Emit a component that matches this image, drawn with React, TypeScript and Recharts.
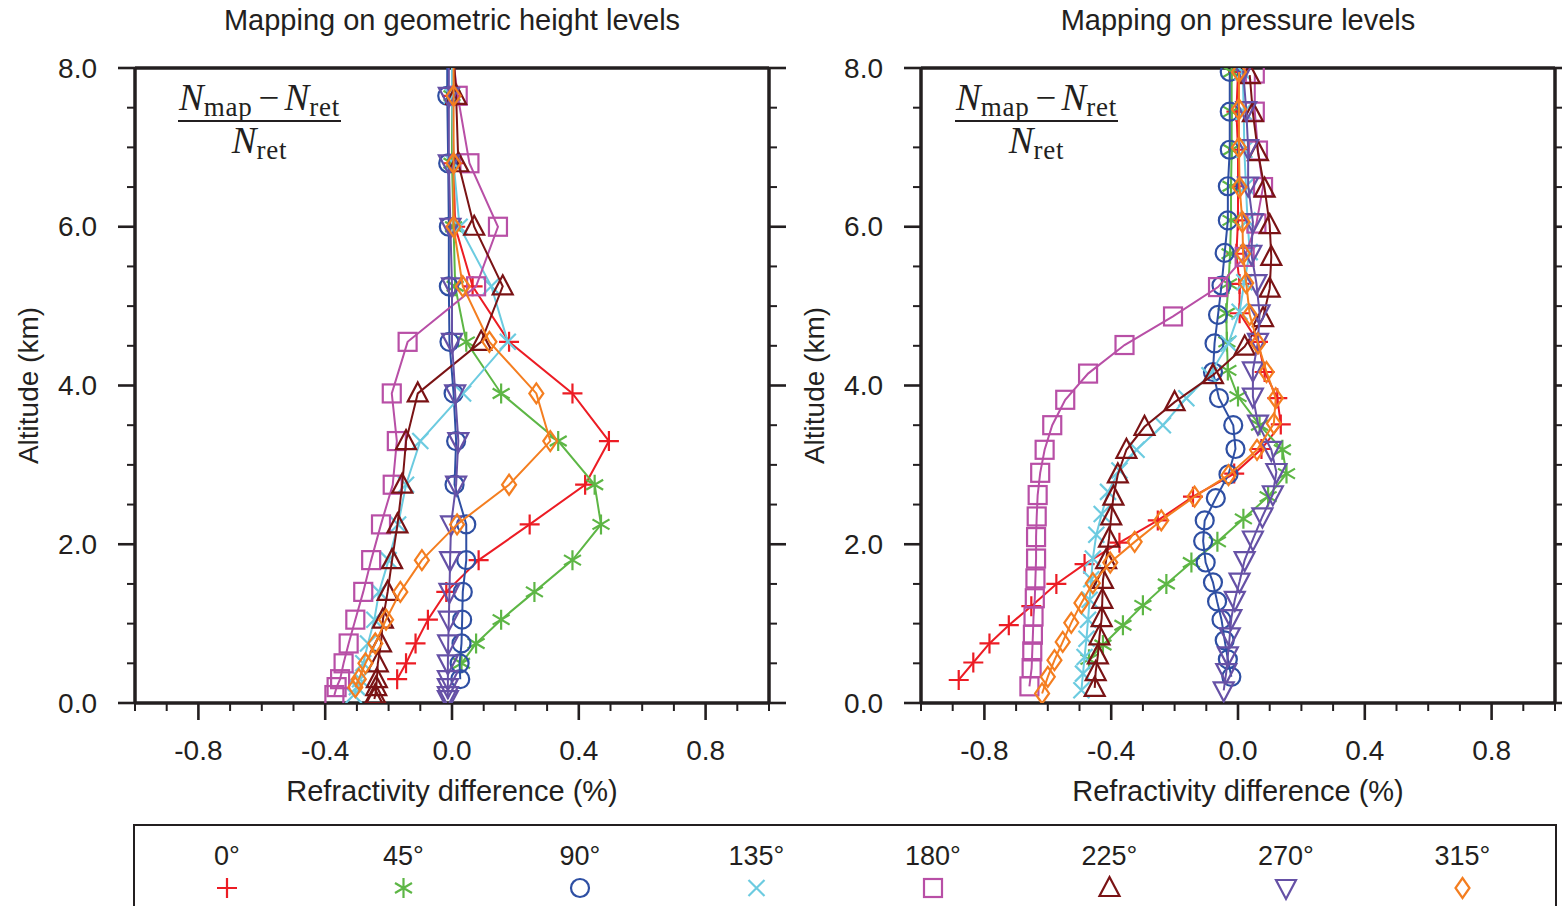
import React from 'react';
import { ScatterChart, Scatter, XAxis, YAxis } from 'recharts';

const INK = '#231f20';
const SANS = '"Liberation Sans", Arial, Helvetica, sans-serif';
const SERIF = '"Liberation Serif", "DejaVu Serif", "Times New Roman", serif';

// axes
const xTicks = [-1.0, -0.9, -0.8, -0.7, -0.6, -0.5, -0.4, -0.3, -0.2, -0.1, 0.0, 0.1, 0.2, 0.3, 0.4, 0.5, 0.6, 0.7, 0.8, 0.9, 1.0];
const xLabelTicks = [-0.8, -0.4, 0.0, 0.4, 0.8];
const yTicks = [0, 0.5, 1, 1.5, 2, 2.5, 3, 3.5, 4, 4.5, 5, 5.5, 6, 6.5, 7, 7.5, 8];
const yLabelTicks = [0, 2, 4, 6, 8];

// series (azimuth of the mapping direction)
const azimuths = ['0°', '45°', '90°', '135°', '180°', '225°', '270°', '315°'];
const colors = ['#ec1c24', '#5db645', '#2e4fa3', '#6ccbe0', '#b84fa6', '#7a1315', '#6651a6', '#f47e20'];
const markers = ['plus', 'star', 'circle', 'cross', 'square', 'triUp', 'triDown', 'diamond'];

// left panel: geometric height levels (km); top level lies above the plot
const geoLevels = [8.55, 7.65, 6.8, 6.0, 5.25, 4.55, 3.9, 3.3, 2.75, 2.25, 1.8, 1.4, 1.05, 0.75, 0.5, 0.3, 0.2, 0.1, 0.05];
const geo0 = [0.0, 0.0, 0.005, 0.01, 0.065, 0.18, 0.38, 0.495, 0.42, 0.245, 0.084, -0.018, -0.076, -0.115, -0.145, -0.173];
const geo45 = [0.0, 0.0, 0.0, 0.005, 0.01, 0.045, 0.155, 0.335, 0.45, 0.47, 0.38, 0.26, 0.155, 0.076, 0.03];
const geo90 = [-0.015, -0.015, -0.012, -0.01, -0.01, -0.008, 0.005, 0.013, 0.008, 0.045, 0.045, 0.034, 0.032, 0.03, 0.024, 0.026];
const geo135 = [0.0, 0.0, 0.005, 0.024, 0.124, 0.176, 0.035, -0.1, -0.145, -0.17, -0.2, -0.23, -0.245, -0.265, -0.28, -0.29, -0.3, -0.31];
const geo180 = [-0.01, 0.018, 0.055, 0.145, 0.076, -0.14, -0.19, -0.174, -0.187, -0.224, -0.255, -0.28, -0.305, -0.326, -0.342, -0.353, -0.364, -0.371];
const geo225 = [0.0, 0.013, 0.02, 0.07, 0.16, 0.092, -0.108, -0.145, -0.157, -0.172, -0.189, -0.203, -0.218, -0.224, -0.234, -0.237, -0.239, -0.242, -0.245];
const geo270 = [-0.01, -0.01, -0.01, -0.005, 0.0, 0.0, 0.01, 0.02, 0.013, -0.003, -0.006, -0.008, -0.01, -0.012, -0.013, -0.013, -0.013, -0.013, -0.013];
const geo315 = [0.005, 0.005, 0.005, 0.005, 0.034, 0.118, 0.266, 0.31, 0.18, 0.016, -0.095, -0.163, -0.208, -0.242, -0.273, -0.294, -0.305];

// right panel: pressure levels, altitude of each level per direction (km)
const pHeight0 = [7.95, 7.45, 6.97, 6.51, 6.08, 5.66, 5.28, 4.91, 4.55, 4.17, 3.84, 3.51, 3.2, 2.89, 2.6, 2.3, 2.02, 1.75, 1.5, 1.22, 0.98, 0.75, 0.51, 0.29];
const pValue0 = [0.0, -0.005, 0.0, 0.0, 0.0, -0.005, 0.005, 0.005, 0.063, 0.084, 0.124, 0.135, 0.074, -0.012, -0.142, -0.253, -0.374, -0.484, -0.573, -0.652, -0.723, -0.784, -0.835, -0.881];
const pHeight45 = [7.95, 7.45, 6.97, 6.51, 6.08, 5.66, 5.28, 4.91, 4.55, 4.19, 3.86, 3.5, 3.19, 2.89, 2.6, 2.32, 2.03, 1.77, 1.5, 1.23, 0.98, 0.73, 0.55];
const pValue45 = [-0.02, -0.02, -0.02, -0.022, -0.022, -0.025, -0.03, -0.037, -0.035, -0.032, 0.0, 0.068, 0.14, 0.153, 0.095, 0.017, -0.065, -0.147, -0.226, -0.3, -0.363, -0.426, -0.47];
const pHeight90 = [7.95, 7.45, 6.97, 6.51, 6.08, 5.67, 5.26, 4.89, 4.53, 4.17, 3.84, 3.5, 3.2, 2.88, 2.58, 2.3, 2.04, 1.77, 1.52, 1.28, 1.05, 0.79, 0.55, 0.33];
const pValue90 = [-0.026, -0.026, -0.026, -0.032, -0.032, -0.042, -0.052, -0.063, -0.074, -0.079, -0.06, -0.015, -0.008, -0.03, -0.07, -0.105, -0.11, -0.102, -0.079, -0.066, -0.052, -0.042, -0.032, -0.021];
const pHeight135 = [7.95, 7.45, 6.97, 6.51, 6.08, 5.68, 5.3, 4.93, 4.53, 4.13, 3.84, 3.5, 3.19, 2.93, 2.66, 2.38, 2.12, 1.82, 1.56, 1.3, 1.05, 0.81, 0.58, 0.37, 0.16];
const pValue135 = [0.015, 0.018, 0.02, 0.025, 0.03, 0.037, 0.02, 0.005, -0.03, -0.09, -0.163, -0.237, -0.32, -0.374, -0.41, -0.43, -0.447, -0.458, -0.463, -0.468, -0.473, -0.478, -0.484, -0.489, -0.494];
const pHeight180 = [7.93, 7.45, 6.96, 6.5, 6.04, 5.62, 5.24, 4.87, 4.51, 4.15, 3.82, 3.5, 3.19, 2.9, 2.62, 2.35, 2.09, 1.82, 1.57, 1.32, 1.09, 0.86, 0.65, 0.44, 0.21];
const pValue180 = [0.053, 0.053, 0.063, 0.079, 0.058, 0.021, -0.063, -0.205, -0.358, -0.473, -0.545, -0.586, -0.61, -0.624, -0.632, -0.635, -0.637, -0.637, -0.639, -0.641, -0.645, -0.647, -0.649, -0.651, -0.658];
const pHeight225 = [7.91, 7.43, 6.94, 6.48, 6.02, 5.62, 5.22, 4.85, 4.49, 4.13, 3.79, 3.48, 3.19, 2.88, 2.6, 2.35, 2.07, 1.8, 1.55, 1.3, 1.07, 0.84, 0.6, 0.39, 0.19];
const pValue225 = [0.037, 0.047, 0.063, 0.084, 0.1, 0.105, 0.1, 0.079, 0.021, -0.079, -0.2, -0.295, -0.352, -0.379, -0.393, -0.4, -0.407, -0.416, -0.426, -0.428, -0.43, -0.437, -0.442, -0.449, -0.452];
const pHeight270 = [7.97, 7.47, 6.99, 6.52, 6.06, 5.66, 5.29, 4.91, 4.55, 4.19, 3.86, 3.52, 3.19, 2.91, 2.63, 2.35, 2.06, 1.8, 1.53, 1.3, 1.07, 0.84, 0.6, 0.39, 0.16];
const pValue270 = [0.016, 0.026, 0.032, 0.032, 0.047, 0.042, 0.058, 0.068, 0.063, 0.047, 0.047, 0.063, 0.105, 0.121, 0.11, 0.077, 0.047, 0.021, 0.005, -0.01, -0.021, -0.026, -0.032, -0.037, -0.045];
const pHeight315 = [7.95, 7.48, 7.0, 6.5, 6.06, 5.66, 5.29, 4.89, 4.53, 4.17, 3.84, 3.52, 3.19, 2.87, 2.6, 2.3, 2.03, 1.77, 1.51, 1.26, 1.01, 0.77, 0.54, 0.33, 0.12];
const pValue315 = [0.003, 0.003, 0.003, 0.005, 0.014, 0.016, 0.026, 0.037, 0.063, 0.09, 0.119, 0.113, 0.06, -0.03, -0.137, -0.242, -0.326, -0.403, -0.458, -0.494, -0.526, -0.553, -0.579, -0.6, -0.618];

type Pt = { x: number; y: number };
const toPoints = (heights: number[], values: number[]): Pt[] => values.map((v, i) => ({ x: v, y: heights[i] }));

const geoSeries = [geo0, geo45, geo90, geo135, geo180, geo225, geo270, geo315].map((v) => toPoints(geoLevels, v));
const presSeries = [
  toPoints(pHeight0, pValue0),
  toPoints(pHeight45, pValue45),
  toPoints(pHeight90, pValue90),
  toPoints(pHeight135, pValue135),
  toPoints(pHeight180, pValue180),
  toPoints(pHeight225, pValue225),
  toPoints(pHeight270, pValue270),
  toPoints(pHeight315, pValue315),
];

const isMajor = (v: number, majors: number[]) => majors.some((m) => Math.abs(m - v) < 1e-6);

function Marker({ kind, cx, cy, color }: { kind: string; cx: number; cy: number; color: string }) {
  const s = { fill: 'none', stroke: color, strokeWidth: 2.2 };
  switch (kind) {
    case 'plus':
      return <path d={`M${cx - 10},${cy}H${cx + 10}M${cx},${cy - 10}V${cy + 10}`} {...s} />;
    case 'star':
      return <path d={`M${cx},${cy - 10}V${cy + 10}M${cx - 8.5},${cy - 5}L${cx + 8.5},${cy + 5}M${cx - 8.5},${cy + 5}L${cx + 8.5},${cy - 5}`} {...s} />;
    case 'circle':
      return <circle cx={cx} cy={cy} r={9} {...s} />;
    case 'cross':
      return <path d={`M${cx - 8},${cy - 8}L${cx + 8},${cy + 8}M${cx - 8},${cy + 8}L${cx + 8},${cy - 8}`} {...s} />;
    case 'square':
      return <rect x={cx - 9} y={cy - 9} width={18} height={18} {...s} />;
    case 'triUp':
      return <path d={`M${cx},${cy - 11}L${cx + 10},${cy + 8}L${cx - 10},${cy + 8}Z`} {...s} />;
    case 'triDown':
      return <path d={`M${cx - 10},${cy - 8}L${cx + 10},${cy - 8}L${cx},${cy + 11}Z`} {...s} />;
    default:
      return <path d={`M${cx},${cy - 10}L${cx + 7},${cy}L${cx},${cy + 10}L${cx - 7},${cy}Z`} {...s} />;
  }
}

// ticks point outward, long on labelled values
const makeTick = (side: string, majors: number[], labelled: boolean) => (props: any) => {
  const { x, y, payload } = props;
  const v = payload.value;
  const major = isMajor(v, majors);
  const len = major ? 17 : 8;
  const w = major ? 2.6 : 2;
  let line;
  if (side === 'bottom') line = <line x1={x} x2={x} y1={y} y2={y + len} stroke={INK} strokeWidth={w} />;
  else if (side === 'top') line = <line x1={x} x2={x} y1={y} y2={y - len} stroke={INK} strokeWidth={w} />;
  else if (side === 'left') line = <line x1={x} x2={x - len} y1={y} y2={y} stroke={INK} strokeWidth={w} />;
  else line = <line x1={x} x2={x + len} y1={y} y2={y} stroke={INK} strokeWidth={w} />;
  let label = null;
  if (labelled && major) {
    if (side === 'bottom')
      label = (
        <text x={x} y={y + 47} textAnchor="middle" dominantBaseline="central" fontSize={28} fontFamily={SANS} fill={INK}>
          {v.toFixed(1)}
        </text>
      );
    else
      label = (
        <text x={x - 38} y={y} textAnchor="end" dominantBaseline="central" fontSize={28} fontFamily={SANS} fill={INK}>
          {v.toFixed(1)}
        </text>
      );
  }
  return (
    <g>
      {line}
      {label}
    </g>
  );
};

const sub = { fontSize: 27, position: 'relative' as const, top: 6, letterSpacing: 0.8 };

const Fraction = ({ left }: { left: number }) => (
  <div
    style={{
      position: 'absolute',
      left,
      top: 79,
      display: 'inline-flex',
      flexDirection: 'column',
      alignItems: 'center',
      fontFamily: SERIF,
      color: INK,
      lineHeight: 1,
    }}
  >
    <div style={{ fontSize: 37, whiteSpace: 'nowrap', padding: '0 1px 4px 1px' }}>
      <i>N</i>
      <span style={sub}>map</span>
      <span style={{ margin: '0 5px 0 6px' }}>−</span>
      <i>N</i>
      <span style={sub}>ret</span>
    </div>
    <div style={{ alignSelf: 'stretch', height: 2, background: INK }} />
    <div style={{ fontSize: 37, whiteSpace: 'nowrap', paddingTop: 0 }}>
      <i>N</i>
      <span style={sub}>ret</span>
    </div>
  </div>
);

function Panel({ title, series, left, width, rightWidth }: { title: string; series: Pt[][]; left: number; width: number; rightWidth: number }) {
  const axisLine = { stroke: INK, strokeWidth: 3.5 };
  return (
    <div style={{ position: 'absolute', left, top: 0 }}>
      <ScatterChart width={width} height={810} margin={{ top: 0, right: 0, bottom: 0, left: 0 }}>
        <XAxis
          xAxisId="b"
          dataKey="x"
          type="number"
          orientation="bottom"
          domain={[-1, 1]}
          allowDataOverflow
          ticks={xTicks}
          interval={0}
          height={107}
          tickSize={0}
          tickMargin={0}
          axisLine={axisLine}
          tickLine={false}
          tick={makeTick('bottom', xLabelTicks, true)}
          label={(p: any) => (
            <text x={p.viewBox.x + p.viewBox.width / 2} y={p.viewBox.y + 88} textAnchor="middle" dominantBaseline="central" fontSize={29} fontFamily={SANS} fill={INK}>
              Refractivity difference (%)
            </text>
          )}
        />
        <XAxis
          xAxisId="t"
          type="number"
          orientation="top"
          domain={[-1, 1]}
          allowDataOverflow
          ticks={xTicks}
          interval={0}
          height={68}
          tickSize={0}
          tickMargin={0}
          axisLine={axisLine}
          tickLine={false}
          tick={makeTick('top', xLabelTicks, false)}
          label={(p: any) => (
            <text x={p.viewBox.x + p.viewBox.width / 2} y={20} textAnchor="middle" dominantBaseline="central" fontSize={29} fontFamily={SANS} fill={INK}>
              {title}
            </text>
          )}
        />
        <YAxis
          yAxisId="l"
          dataKey="y"
          type="number"
          orientation="left"
          domain={[0, 8]}
          allowDataOverflow
          ticks={yTicks}
          interval={0}
          width={135}
          tickSize={0}
          tickMargin={0}
          axisLine={axisLine}
          tickLine={false}
          tick={makeTick('left', yLabelTicks, true)}
          label={(p: any) => {
            const cx = p.viewBox.x + 28;
            const cy = p.viewBox.y + p.viewBox.height / 2;
            return (
              <text x={cx} y={cy} transform={`rotate(-90 ${cx} ${cy})`} textAnchor="middle" dominantBaseline="central" fontSize={28} fontFamily={SANS} fill={INK}>
                Altitude (km)
              </text>
            );
          }}
        />
        <YAxis
          yAxisId="r"
          type="number"
          orientation="right"
          domain={[0, 8]}
          allowDataOverflow
          ticks={yTicks}
          interval={0}
          width={rightWidth}
          tickSize={0}
          tickMargin={0}
          axisLine={axisLine}
          tickLine={false}
          tick={makeTick('right', yLabelTicks, false)}
        />
        {series.map((pts, i) => (
          <Scatter
            key={azimuths[i]}
            name={azimuths[i]}
            data={pts}
            xAxisId="b"
            yAxisId="l"
            line={{ stroke: colors[i], strokeWidth: 2 }}
            lineType="joint"
            isAnimationActive={false}
            shape={(p: any) =>
              p.payload.y > 8 ? <g /> : <Marker kind={markers[i]} cx={p.cx} cy={p.cy} color={colors[i]} />
            }
          />
        ))}
      </ScatterChart>
    </div>
  );
}

function LegendBox() {
  return (
    <div style={{ position: 'absolute', left: 133, top: 824, width: 1420, height: 120, border: `2px solid ${INK}` }}>
      <svg width={1420} height={100}>
        {azimuths.map((a, i) => {
          const cx = 92 + i * 176.5;
          return (
            <g key={a}>
              <text x={cx} y={30} textAnchor="middle" dominantBaseline="central" fontSize={27} fontFamily={SANS} fill={INK}>
                {a}
              </text>
              <Marker kind={markers[i]} cx={cx} cy={62} color={colors[i]} />
            </g>
          );
        })}
      </svg>
    </div>
  );
}

export default function App() {
  return (
    <div style={{ position: 'fixed', left: 0, top: 0, width: 1562, height: 906, overflow: 'hidden', background: '#fff', fontFamily: SANS }}>
      <Panel title="Mapping on geometric height levels" series={geoSeries} left={0} width={800} rightWidth={31} />
      <Panel title="Mapping on pressure levels" series={presSeries} left={786} width={776} rightWidth={7} />
      <Fraction left={178} />
      <Fraction left={955} />
      <LegendBox />
    </div>
  );
}
